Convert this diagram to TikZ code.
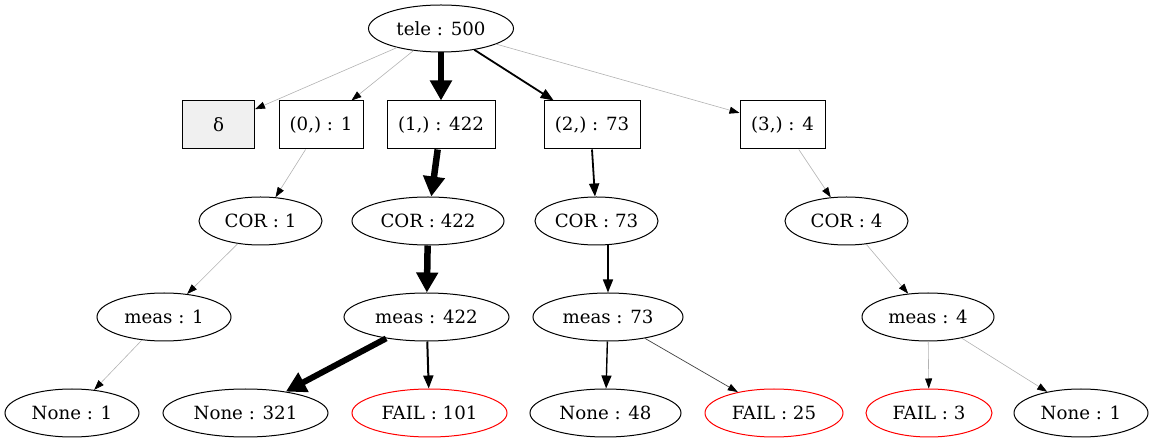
\documentclass[tikz,border=0pt]{standalone}
\usepackage{fontspec}
\setmainfont{DejaVu Serif}
\usetikzlibrary{shapes.geometric,arrows.meta}

\tikzset{
  every node/.style={font=\fontsize{18.2}{20}\selectfont, inner sep=0pt, line width=1pt},
  oval/.style={draw, ellipse, minimum height=48pt},
  fail/.style={oval, draw=red},
  box/.style={draw, rectangle, minimum height=48pt},
  % edge weights, from faint to heavy
  faint/.style={draw=black!30, line width=0.6pt, -{Triangle[length=10pt,width=7pt,color=black]}},
  light/.style={draw=black!75, line width=0.7pt, -{Triangle[length=10pt,width=7pt,color=black]}},
  mid/.style={draw=black, line width=1.8pt, -{Triangle[length=13pt,width=10pt]}},
  heavy/.style={draw=black, line width=6.5pt, -{Triangle[length=20pt,width=21pt]}},
}

\begin{document}
\begin{tikzpicture}[x=1pt, y=-1pt]
  \useasboundingbox (0,0) rectangle (1152,443);

  % root
  \node[oval, minimum width=145pt, minimum height=47pt] (tele) at (441,28.5) {tele : 500};

  % outcome boxes
  \node[box, minimum width=72pt, fill=black!6] (delta) at (218.5,125) {δ};
  \node[box, minimum width=84pt]  (o0) at (321,125) {(0,) : 1};
  \node[box, minimum width=108pt] (o1) at (441,125) {(1,) : 422};
  \node[box, minimum width=96pt]  (o2) at (592,125) {(2,) : 73};
  \node[box, minimum width=85pt]  (o3) at (782.5,125) {(3,) : 4};

  % corrections
  \node[oval, minimum width=123pt] (c0) at (260.5,221) {COR : 1};
  \node[oval, minimum width=152pt] (c1) at (428,221) {COR : 422};
  \node[oval, minimum width=123pt] (c2) at (596.5,221) {COR : 73};
  \node[oval, minimum width=123pt] (c3) at (846.5,221) {COR : 4};

  % measurements
  \node[oval, minimum width=134pt] (m0) at (164,317) {meas : 1};
  \node[oval, minimum width=165pt] (m1) at (426.5,317) {meas : 422};
  \node[oval, minimum width=150pt] (m2) at (608,317) {meas : 73};
  \node[oval, minimum width=132pt] (m3) at (928,317) {meas : 4};

  % results
  \node[oval, minimum width=134pt] (r0)  at (72,413)   {None : 1};
  \node[oval, minimum width=165pt] (r1)  at (245.5,413) {None : 321};
  \node[fail, minimum width=155pt] (r1f) at (429.5,413) {FAIL : 101};
  \node[oval, minimum width=151pt] (r2)  at (605.5,413) {None : 48};
  \node[fail, minimum width=138pt] (r2f) at (774,413)   {FAIL : 25};
  \node[fail, minimum width=126pt] (r3f) at (929,413)   {FAIL : 3};
  \node[oval, minimum width=134pt] (r3)  at (1081,413)  {None : 1};

  % edges
  \draw[faint] (tele) -- (delta);
  \draw[faint] (tele) -- (o0);
  \draw[heavy] (tele) -- (o1);
  \draw[mid]   (tele) -- (o2);
  \draw[faint] (tele) -- (o3);

  \draw[faint] (o0) -- (c0);
  \draw[heavy] (o1) -- (c1);
  \draw[mid]   (o2.south) -- (c2);
  \draw[faint] (o3) -- (c3);

  \draw[faint] (c0) -- (m0);
  \draw[heavy] (c1) -- (m1);
  \draw[mid, line width=1.6pt] (c2.south -| m2) -- (m2);
  \draw[faint] (c3) -- (m3);

  \draw[faint] (m0) -- (r0);
  \draw[heavy, line width=6pt] (m1) -- (r1);
  \draw[mid, line width=2pt] (m1) -- (r1f);
  \draw[mid, line width=1.4pt] (m2) -- (r2);
  \draw[light] (m2) -- (r2f);
  \draw[faint] (m3) -- (r3f);
  \draw[faint] (m3) -- (r3);
\end{tikzpicture}
\end{document}
